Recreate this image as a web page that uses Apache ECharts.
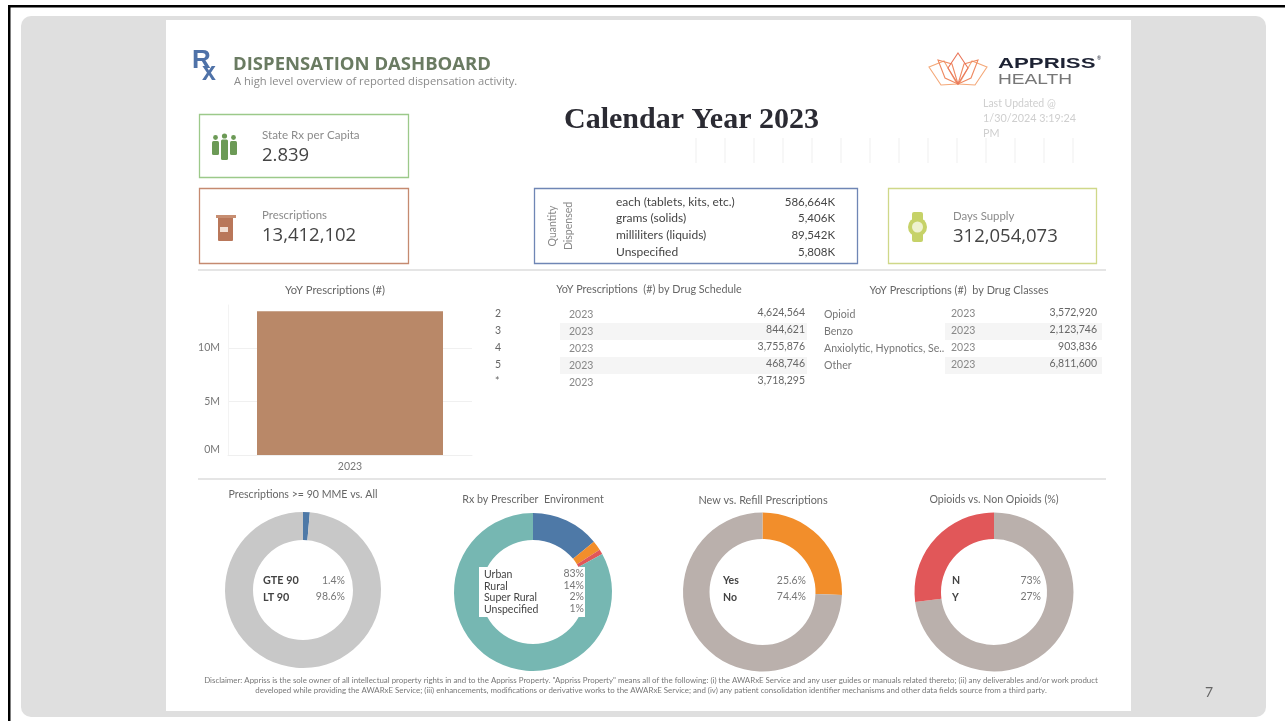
<!DOCTYPE html>
<html><head><meta charset="utf-8">
<style>html,body{margin:0;padding:0;background:#fff;overflow:hidden}#c{width:1285px;height:721px;filter:blur(0.6px)}</style>
<script src="https://cdn.jsdelivr.net/npm/echarts@6/dist/echarts.min.js"></script>
</head><body><div id="c"></div>
<script>
const barYears = ['2023'];
const barValues = [13412102];
const scheduleNames = ['2','3','4','5','*'];
const scheduleValues = ['4,624,564','844,621','3,755,876','468,746','3,718,295'];
const classNames = ['Opioid','Benzo','Anxiolytic, Hypnotics, Se..','Other'];
const classValues = ['3,572,920','2,123,746','903,836','6,811,600'];
const qtyNames = ['each (tablets, kits, etc.)','grams (solids)','milliliters (liquids)','Unspecified'];
const qtyValues = ['586,664K','5,406K','89,542K','5,808K'];
const mmeNames = ['GTE 90','LT 90'];
const mmeValues = [1.4,98.6];
const envNames = ['Rural','Super Rural','Unspecified','Urban'];
const envValues = [14,2,1,83];
const refillNames = ['Yes','No'];
const refillValues = [25.6,74.4];
const opioidNames = ['N','Y'];
const opioidValues = [73,27];

const FONT='Lato, "Open Sans", sans-serif';
const g=[];
function T(x,y,s,o){o=o||{};g.push({type:'text',x,y,z:o.z||50,rotation:o.rot||0,scaleX:o.sx||1,style:{text:s,x:0,y:0,
  fill:o.c||'#777',font:(o.w||'normal')+' '+(o.s||11)+'px '+(o.f||FONT),align:o.a||'left',verticalAlign:'middle'}});}
function R(x,y,w,h,o){g.push({type:'rect',z:o.z===undefined?-5:o.z,shape:{x,y,width:w,height:h,r:o.r||0},
  style:{fill:o.fill||'transparent',stroke:o.stroke||null,lineWidth:o.lw||1}});}
function C(cx,cy,r,fill){g.push({type:'circle',z:50,shape:{cx,cy,r},style:{fill}});}
function L(x1,y1,x2,y2,stroke,lw){g.push({type:'line',z:-4,shape:{x1,y1,x2,y2},style:{stroke,lineWidth:lw||1}});}
function P(points,stroke){g.push({type:'polygon',z:50,shape:{points},style:{fill:'transparent',stroke,lineWidth:1.1}});}

// slide frame
R(0,0,1285,721,{fill:'#fff',z:-9});
R(8,5,1277,2.5,{fill:'#000',z:-8});
R(8,5,2.5,716,{fill:'#000',z:-8});
R(21,16,1245,701,{fill:'#dfdfdf',r:10,z:-8});
R(166,20,965,691,{fill:'#fff',z:-7});

// KPI boxes
R(199.5,114.5,209,63,{stroke:'#9cc98a',lw:1.3});
R(199.5,188.5,209,75,{stroke:'#c58a70',lw:1.3});
R(534.5,188.5,323,75,{stroke:'#6f86b5',lw:1.3});
R(888.5,188.5,208,75,{stroke:'#cfd889',lw:1.3});
L(198,270,1106,270,'#dcdcdc',1.5);
L(198,479,1106,479,'#dcdcdc',1.5);

// header
T(192,61,'R',{s:26,w:'bold',c:'#4f72a8',f:'Liberation Sans'});
T(202,73,'x',{s:25,w:'bold',c:'#4f72a8',f:'Liberation Sans'});
T(233,65,'DISPENSATION DASHBOARD',{s:18.5,w:'bold',c:'#6a7b62',f:'"Open Sans"'});
T(234,82,'A high level overview of reported dispensation activity.',{s:11.2,c:'#8a8a8a',f:'"Open Sans"'});
T(564,120,'Calendar Year 2023',{s:30,w:'bold',c:'#2b2b33',f:'"Liberation Serif"'});
T(998,64,'APPRISS',{s:15,w:'bold',c:'#1d2233',f:'"Liberation Sans"',sx:1.48});
T(1097,58,'®',{s:5,c:'#1d2233'});
T(998,80,'HEALTH',{s:14.5,c:'#777',f:'"Liberation Sans"',sx:1.32});
T(983,104,'Last Updated @',{s:10.5,c:'#cfcfcf'});
T(983,119,'1/30/2024 3:19:24',{s:10.8,c:'#cfcfcf'});
T(983,134,'PM',{s:10.8,c:'#cfcfcf'});
for(let i=0;i<14;i++) L(696+29*i,138,696+29*i,163,'#efefef',1);

// lotus logo
P([[929,67],[944,61],[957,84],[941,85]],'#f4a878');
P([[987,67],[972,61],[959,84],[975,85]],'#f4a878');
P([[938,60],[952,64],[958,84],[945,78]],'#ef8a62');
P([[978,60],[964,64],[958,84],[971,78]],'#ef8a62');
P([[958,53],[968,68],[958,84],[948,68]],'#e9765a');

// KPI text
T(262,135,'State Rx per Capita',{s:11.6,c:'#8b8b8b'});
T(262,156,'2.839',{s:18.5,c:'#444',f:'"Open Sans"'});
T(262,215,'Prescriptions',{s:11.4,c:'#8b8b8b'});
T(262,236,'13,412,102',{s:18.5,c:'#444',f:'"Open Sans"'});
T(953,216,'Days Supply',{s:11.4,c:'#8b8b8b'});
T(953,237,'312,054,073',{s:18.5,c:'#444',f:'"Open Sans"'});
T(553,226,'Quantity',{s:10.5,a:'center',rot:Math.PI/2,c:'#888'});
T(569,226,'Dispensed',{s:10.5,a:'center',rot:Math.PI/2,c:'#888'});
const qtyY=[202,218,235,252];
qtyNames.forEach((n,i)=>{T(616,qtyY[i],n,{s:12,c:'#444'});T(835,qtyY[i],qtyValues[i],{s:11.5,a:'right',c:'#444'});});

// icons
[[215.5,137.5,2.4,7,155],[224.5,136,2.6,7,160],[233.5,137.5,2.4,7,155]].forEach(p=>{C(p[0],p[1],p[2],'#6c9a56');
  g.push({type:'rect',z:50,shape:{x:p[0]-p[3]/2,y:p[1]+3.5,width:p[3],height:p[4]-p[1]-3.5,r:1.5},style:{fill:'#6c9a56'}});});
R(218,216,15,25,{fill:'#b9775a',z:50,r:1});
R(216,215,20,3,{fill:'#c78e72',z:50});
R(220,227,8,5,{fill:'#f2dfd4',z:50});
R(912,212,11,30,{fill:'#c6d268',z:50,r:2});
C(917.5,227,9.5,'#c6d268');C(917.5,227,5.5,'#eef2cf');

// tables
const rowY=[314,331,348,365,382];
R(560,323,247,17,{fill:'#f5f5f5'});R(560,357,247,17,{fill:'#f5f5f5'});
R(945,323,157,17,{fill:'#f5f5f5'});R(945,357,157,17,{fill:'#f5f5f5'});
T(649,290,'YoY Prescriptions  (#) by Drug Schedule',{s:10.8,a:'center',c:'#666'});
T(959,290,'YoY Prescriptions (#)  by Drug Classes',{s:10.9,a:'center',c:'#666'});
scheduleNames.forEach((n,i)=>{T(495,rowY[i],n,{s:10.5,c:'#666'});T(569,rowY[i]+1,barYears[0],{s:10.5,c:'#888'});T(805,rowY[i]-1,scheduleValues[i],{s:10.5,a:'right',c:'#666'});});
classNames.forEach((n,i)=>{T(824,rowY[i]+1,n,{s:10.6,c:'#777'});T(951,rowY[i],barYears[0],{s:10.5,c:'#888'});T(1097,rowY[i]-1,classValues[i],{s:10.5,a:'right',c:'#666'});});

// pie titles + inner legends
T(303,495,'Prescriptions >= 90 MME vs. All',{s:10.6,a:'center',c:'#666'});
T(533,500,'Rx by Prescriber  Environment',{s:10.7,a:'center',c:'#666'});
T(763,500,'New vs. Refill Prescriptions',{s:10.9,a:'center',c:'#666'});
T(994,500,'Opioids vs. Non Opioids (%)',{s:10.6,a:'center',c:'#666'});
mmeNames.forEach((n,i)=>{T(263,581+i*17,n,{s:10.8,c:'#444',w:'bold'});T(345,581+i*16,mmeValues[i]+'%',{s:10.5,a:'right',c:'#777'});});
R(479,567,106,50,{fill:'#fff',z:40});
const envOrder=[3,0,1,2], envY=[575,587,598,610];
envOrder.forEach((k,i)=>{T(484,envY[i],envNames[k],{s:10.5,c:'#444'});T(584,envY[i]-1,envValues[k]+'%',{s:10.5,a:'right',c:'#777'});});
refillNames.forEach((n,i)=>{T(723,581+i*17,n,{s:10.5,c:'#444',w:'bold'});T(806,581+i*16,refillValues[i]+'%',{s:10.5,a:'right',c:'#777'});});
opioidNames.forEach((n,i)=>{T(952,581+i*17,n,{s:10.5,c:'#444',w:'bold'});T(1041,581+i*16,opioidValues[i]+'%',{s:10.5,a:'right',c:'#777'});});

// bar title, disclaimer, page
T(335,290,'YoY Prescriptions (#)',{s:11.2,a:'center',c:'#666'});
T(651,680,'Disclaimer: Appriss is the sole owner of all intellectual property rights in and to the Appriss Property. "Appriss Property" means all of the following: (i) the AWARxE Service and any user guides or manuals related thereto; (ii) any deliverables and/or work product',{s:7.9,a:'center',c:'#777'});
T(651,690,'developed while providing the AWARxE Service; (iii) enhancements, modifications or derivative works to the AWARxE Service; and (iv) any patient consolidation identifier mechanisms and other data fields source from a third party.',{s:7.9,a:'center',c:'#777'});
T(1209,692,'7',{s:14,a:'center',c:'#666'});

function pie(cx,cy,rI,rO,names,values,colors){
  return {type:'pie',silent:true,animation:false,center:[cx,cy],radius:[rI,rO],startAngle:90,clockwise:true,
    label:{show:false},labelLine:{show:false},
    data:names.map((n,i)=>({name:n,value:values[i],itemStyle:{color:colors[i]}}))};
}
const chart=echarts.init(document.getElementById('c'),null,{renderer:'canvas'});
chart.setOption({
  animation:false,
  graphic:{elements:g},
  grid:{left:228,width:244,top:305,height:150},
  xAxis:{type:'category',data:barYears,axisTick:{show:false},axisLine:{lineStyle:{color:'#efefef'}},
    axisLabel:{color:'#777',fontSize:10.5,fontFamily:FONT,margin:6}},
  yAxis:{type:'value',min:0,max:14000000,interval:5000000,
    axisLine:{show:true,lineStyle:{color:'#f3f3f3'}},axisTick:{show:false},
    splitLine:{showMaxLine:false,lineStyle:{color:'#f0f0f0'}},
    axisLabel:{showMaxLabel:false,verticalAlignMinLabel:'bottom',color:'#777',fontSize:10.5,fontFamily:FONT,margin:8,formatter:v=>(v/1e6)+'M'}},
  series:[
    {type:'bar',silent:true,data:barValues,barWidth:186,itemStyle:{color:'#b98868'}},
    pie(303,590,50,78,mmeNames,mmeValues,['#4e79a7','#c8c8c8']),
    pie(533,592,52,79,envNames,envValues,['#4e79a7','#f28e2b','#e15759','#76b7b2']),
    pie(762.5,592,53,79.5,refillNames,refillValues,['#f28e2b','#bab0ac']),
    pie(994,592,53,79.5,opioidNames,opioidValues,['#bab0ac','#e15759'])
  ]
});
</script></body></html>
